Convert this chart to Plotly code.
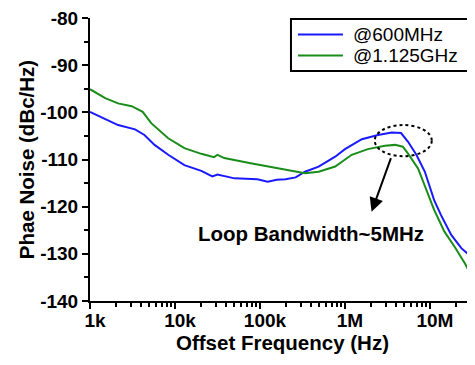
import plotly.graph_objects as go

# ---- data ----
freq_600 = [1000, 1510, 2140, 3390, 4370, 5750, 8320, 12900, 20400, 27500, 31600,
            50100, 93300, 123000, 158000, 200000, 263000, 339000, 490000, 767000,
            1.0e6, 1.58e6, 2.45e6, 3.55e6, 4.57e6, 5.5e6, 6.92e6, 8.71e6, 1.12e7,
            1.35e7, 1.78e7, 2.34e7, 2.75e7, 3.39e7]
pn_600 = [-99.9, -101.5, -102.7, -103.6, -104.8, -106.9, -109.0, -111.2, -112.4, -113.6, -113.2,
          -114.0, -114.2, -114.7, -114.3, -114.2, -113.8, -112.6, -111.5, -109.4,
          -107.8, -105.7, -104.8, -104.3, -104.4, -106.2, -109.0, -112.6, -118.6,
          -121.8, -126.0, -128.8, -129.9, -130.8]

freq_1125 = [1000, 1510, 2140, 3090, 4170, 5250, 8320, 12900, 20400, 28800, 31600,
             38000, 77600, 126000, 182000, 263000, 339000, 490000, 767000, 1.2e6,
             1.86e6, 2.95e6, 3.89e6, 4.79e6, 5.5e6, 7.24e6, 9.55e6, 1.12e7, 1.48e7,
             1.95e7, 2.57e7, 3.39e7]
pn_1125 = [-95.1, -97.0, -98.1, -98.7, -99.9, -102.3, -105.5, -107.6, -108.8, -109.5, -109.0,
           -109.7, -110.8, -111.5, -112.1, -112.6, -112.9, -112.6, -111.5, -109.0,
           -107.8, -107.1, -106.9, -107.3, -108.7, -111.9, -117.5, -120.7, -125.3,
           -128.5, -132.0, -136.0]

series_names = ["@600MHz", "@1.125GHz"]
series_colors = ["#1a1aff", "#1a8c1a"]
x_tickvals = [1e3, 1e4, 1e5, 1e6, 1e7]
x_ticktext = ["1k", "10k", "100k", "1M", "10M"]
y_tickvals = [-80, -90, -100, -110, -120, -130, -140]

annotation_text = "Loop Bandwidth~5MHz"
ellipse_f = [2.24e6, 1.05e7]
ellipse_db = [-109.3, -102.7]
arrow_head = (6.313, -121.1)   # (log10 f, dB)
arrow_tail = (6.547, -109.4)
label_pos = (5.596, -125.6)

FONT = "Liberation Sans, Arial, sans-serif"

fig = go.Figure()
for f, v, n, c in [(freq_600, pn_600, series_names[0], series_colors[0]),
                   (freq_1125, pn_1125, series_names[1], series_colors[1])]:
    fig.add_trace(go.Scatter(x=f, y=v, mode="lines", name=n, showlegend=False,
                             line=dict(color=c, width=2)))

# hand-drawn legend box (matches the compact original)
legend_rows_y = [0.9417, 0.8675]
shapes = [dict(type="rect", xref="paper", yref="paper", x0=0.522, x1=1.03,
               y0=0.813, y1=0.9965, line=dict(color="black", width=2),
               fillcolor="white", layer="above")]
annotations = []
for row_y, n, c in zip(legend_rows_y, series_names, series_colors):
    shapes.append(dict(type="line", xref="paper", yref="paper", x0=0.540, x1=0.657,
                       y0=row_y, y1=row_y, line=dict(color=c, width=2), layer="above"))
    annotations.append(dict(x=0.679, y=row_y, xref="paper", yref="paper", text=n,
                            xanchor="left", yanchor="middle", showarrow=False,
                            font=dict(family=FONT, size=19, color="black")))

shapes.append(dict(type="circle", xref="x", yref="y",
                   x0=ellipse_f[0], x1=ellipse_f[1], y0=ellipse_db[0], y1=ellipse_db[1],
                   line=dict(color="black", width=2, dash="dot")))
annotations += [
    dict(x=arrow_head[0], y=arrow_head[1], ax=arrow_tail[0], ay=arrow_tail[1],
         xref="x", yref="y", axref="x", ayref="y", text="", showarrow=True,
         arrowhead=2, arrowsize=1.4, arrowwidth=2, arrowcolor="black"),
    dict(x=label_pos[0], y=label_pos[1], xref="x", yref="y", text="<b>" + annotation_text + "</b>",
         showarrow=False, font=dict(family=FONT, size=20.5, color="black")),
]

fig.update_layout(
    width=475, height=365,
    margin=dict(l=82, r=8, t=10, b=72, autoexpand=False),
    paper_bgcolor="white", plot_bgcolor="white",
    font=dict(family=FONT, color="black"),
    showlegend=False,
    shapes=shapes,
    annotations=annotations,
)

fig.update_xaxes(
    type="log", range=[3, 7.53],
    tickvals=x_tickvals, ticktext=["<b>%s</b>" % t for t in x_ticktext],
    ticks="outside", ticklen=6, tickwidth=2, tickcolor="black",
    ticklabelshift=5, ticklabelstandoff=-5, ticklabeloverflow="allow",
    showline=True, linecolor="black", linewidth=2, showgrid=False, zeroline=False,
    tickfont=dict(family=FONT, size=19, color="black"),
    minor=dict(ticks="outside", ticklen=4, tickwidth=1.5, tickcolor="black",
               dtick="D1", showgrid=False),
    title=dict(text="<b>Offset Frequency (Hz)</b>", standoff=0,
               font=dict(family=FONT, size=20.5, color="black")),
)
fig.update_yaxes(
    range=[-140, -80], tickvals=y_tickvals,
    ticktext=["<b>%d</b>" % t for t in y_tickvals],
    ticks="outside", ticklen=6, tickwidth=2, tickcolor="black",
    ticklabeloverflow="allow",
    showline=True, linecolor="black", linewidth=2, showgrid=False, zeroline=False,
    tickfont=dict(family=FONT, size=19, color="black"),
    minor=dict(ticks="outside", ticklen=4, tickwidth=1.5, tickcolor="black",
               dtick=5, showgrid=False),
    title=dict(text="<b>Phae Noise (dBc/Hz)</b>", standoff=0,
               font=dict(family=FONT, size=20.5, color="black")),
)

fig.write_html("out.html")
